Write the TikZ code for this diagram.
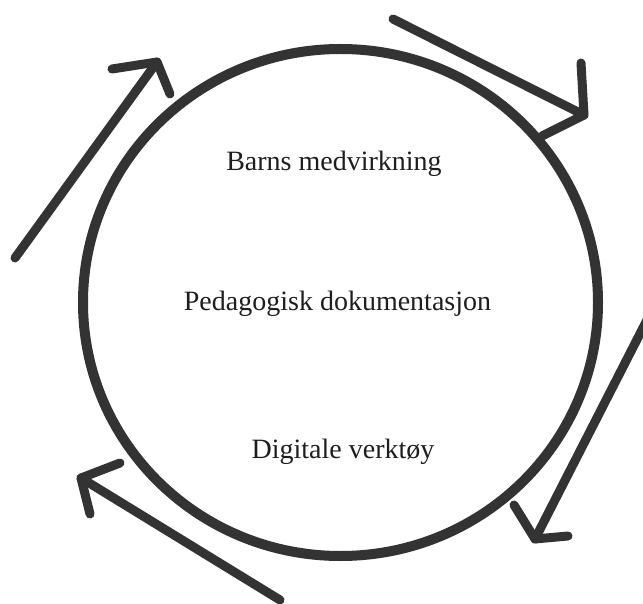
\documentclass[tikz,border=0pt]{standalone}
\usepackage{fontspec}
\setmainfont{Liberation Serif}
\definecolor{ink}{HTML}{333333}
\definecolor{txt}{HTML}{1E1E1E}
\begin{document}
\begin{tikzpicture}[x=1pt,y=-1pt,
  ring/.style={draw=ink,line width=10pt},
  stroke/.style={draw=ink,line width=9pt,line cap=round,line join=round},
  label/.style={text=txt,font=\fontsize{28}{31}\selectfont,inner sep=0pt,anchor=base}]
\useasboundingbox (0,0) rectangle (643,604);
\fill[white] (0,0) rectangle (643,604);
% circle
\coordinate (c) at (340.5,302.5);
\draw[ring] (c) ellipse [x radius=257.5, y radius=253.5];
% texts
\node[label] (barns) at (334,171) {Barns medvirkning};
\node[label] (ped) at (337.5,310) {Pedagogisk dokumentasjon};
\node[label] (dig) at (343,458) {Digitale verktøy};
% arrow 1 (top-left, pointing up)
\coordinate (t1) at (15,258); \coordinate (h1) at (157,62);
\coordinate (a1) at (112,69); \coordinate (b1) at (170,94);
\draw[stroke] (t1) -- (h1);
\draw[stroke] (a1) -- (h1) -- (b1);
% arrow 2 (top-right)
\coordinate (t2) at (393,19); \coordinate (h2) at (584,115);
\coordinate (a2) at (581,63); \coordinate (b2) at (542,136);
\draw[stroke] (t2) -- (h2);
\draw[stroke] (a2) -- (h2) -- (b2);
% arrow 3 (right, pointing down-left)
\coordinate (t3) at (648,318); \coordinate (h3) at (535,539);
\coordinate (a3) at (514,505); \coordinate (b3) at (568,536);
\draw[stroke] (t3) -- (h3);
\draw[stroke] (a3) -- (h3) -- (b3);
% arrow 4 (bottom-left, pointing up-left)
\coordinate (t4) at (280,600); \coordinate (h4) at (81,478);
\coordinate (a4) at (120,463); \coordinate (b4) at (90,514);
\draw[stroke] (t4) -- (h4);
\draw[stroke] (a4) -- (h4) -- (b4);
\end{tikzpicture}
\end{document}
